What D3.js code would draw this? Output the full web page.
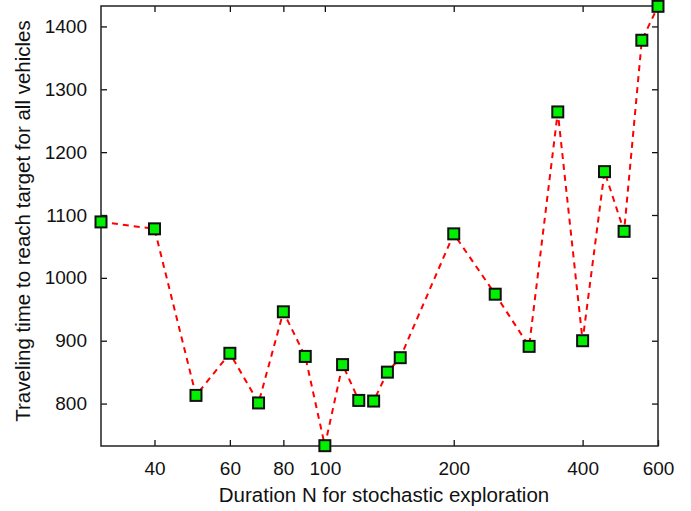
<!DOCTYPE html>
<html>
<head>
<meta charset="utf-8">
<script src="https://cdn.jsdelivr.net/npm/d3@7"></script>
<style>
  body { margin: 0; background: #fff; }
  text { font-family: "Liberation Sans", Arial, sans-serif; fill: #111; }
</style>
</head>
<body>
<div id="chart"></div>
<script>
const durations = [30, 40, 50, 60, 70, 80, 90, 100, 110, 120, 130, 140, 150, 200, 250, 300, 350, 400, 450, 500, 550, 600];
const times = [1089, 1078, 813, 880, 801, 946, 875, 733, 862, 805, 804, 850, 873, 1070, 974, 891, 1264, 900, 1169, 1074, 1378, 1432];
const xTicks = [40, 60, 80, 100, 200, 400, 600];
const yTicks = [800, 900, 1000, 1100, 1200, 1300, 1400];

const W = 691, H = 511;
const margin = {top: 6, right: 33, bottom: 65, left: 101},
    width = W - margin.left - margin.right,
    height = H - margin.top - margin.bottom;

const svg = d3.select("#chart").append("svg")
    .attr("width", W)
    .attr("height", H)
  .append("g")
    .attr("transform", `translate(${margin.left},${margin.top})`);

const data = durations.map((d, i) => ({n: d, t: times[i]}));

const x = d3.scaleLog()
    .domain([30, 600])
    .range([0, width]);

const y = d3.scaleLinear()
    .domain([732.5, 1432.5])
    .range([height, 0]);

// axes with inward ticks, mirrored on top and right
const styleAxis = g => {
  g.select(".domain").remove();
  g.selectAll(".tick line").attr("stroke", "#111").attr("stroke-width", 1.3);
  g.selectAll(".tick text").attr("font-size", 19).attr("fill", "#111")
    .attr("font-family", "Liberation Sans, Arial, sans-serif");
};

svg.append("g")
    .attr("transform", `translate(0,${height})`)
    .call(d3.axisBottom(x).tickValues(xTicks).tickFormat(d3.format("d")).tickSizeInner(-6).tickPadding(16))
    .call(styleAxis);

svg.append("g")
    .call(d3.axisTop(x).tickValues(xTicks).tickSizeInner(-6).tickFormat(""))
    .call(styleAxis);

svg.append("g")
    .call(d3.axisLeft(y).tickValues(yTicks).tickFormat(d3.format("d")).tickSizeInner(-6).tickPadding(14))
    .call(styleAxis);

svg.append("g")
    .attr("transform", `translate(${width},0)`)
    .call(d3.axisRight(y).tickValues(yTicks).tickSizeInner(-6).tickFormat(""))
    .call(styleAxis);

svg.append("rect")
    .attr("width", width)
    .attr("height", height)
    .attr("fill", "none")
    .attr("stroke", "#222")
    .attr("stroke-width", 1.5);

svg.append("path")
    .datum(data)
    .attr("fill", "none")
    .attr("stroke", "#ff0000")
    .attr("stroke-width", 2)
    .attr("stroke-dasharray", "6,5")
    .attr("d", d3.line().x(d => x(d.n)).y(d => y(d.t)));

svg.selectAll(".pt")
    .data(data)
    .enter()
    .append("rect")
    .attr("class", "pt")
    .attr("x", d => x(d.n) - 5.5)
    .attr("y", d => y(d.t) - 5.5)
    .attr("width", 11)
    .attr("height", 11)
    .attr("fill", "#00f000")
    .attr("stroke", "#111")
    .attr("stroke-width", 2);

svg.append("text")
    .attr("text-anchor", "middle")
    .attr("x", 384 - margin.left)
    .attr("y", height + 56)
    .attr("font-size", 20.5)
    .text("Duration N for stochastic exploration");

svg.append("text")
    .attr("text-anchor", "middle")
    .attr("transform", `translate(${-71},${221 - margin.top}) rotate(-90)`)
    .attr("font-size", 20.5)
    .text("Traveling time to reach target for all vehicles");
</script>
</body>
</html>
